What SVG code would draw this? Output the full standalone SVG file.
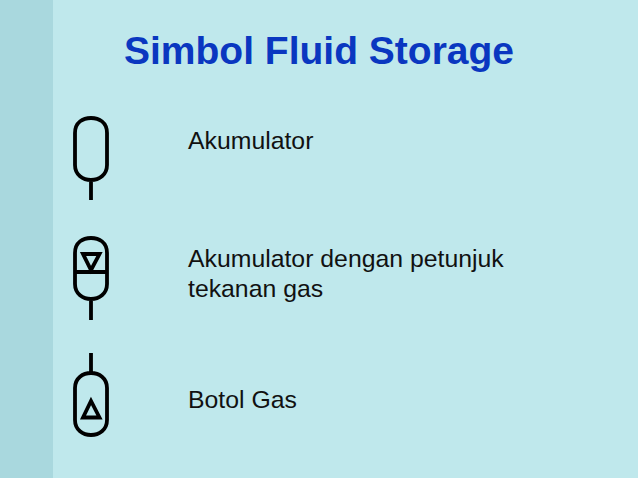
<svg xmlns="http://www.w3.org/2000/svg" width="638" height="478" viewBox="0 0 638 478">
<style>
.s{fill:none;stroke:#000;stroke-width:3.800;stroke-linejoin:miter}
.t{font-family:"Liberation Sans",Arial,sans-serif;font-size:24.800px;fill:#111}
.h{font-family:"Liberation Sans",Arial,sans-serif;font-size:39px;font-weight:bold;fill:#0a37c0}
</style>
<rect width="638" height="478" fill="#bfe8ec"/>
<rect width="53" height="478" fill="#a9d8de"/>
<text id="title" class="h" x="124" y="64">Simbol Fluid Storage</text>
<g id="akumulator">
<path class="s" d="M75 133C75 122 83 118 91 118S107 122 107 133V165C107 175 99 180 91 180S75 175 75 165ZM91 180V200"/>
<text class="t" x="188" y="149">Akumulator</text>
</g>
<g id="akumulator-gas">
<path class="s" d="M75 253C75 242 83 238 91 238S107 242 107 253V284C107 294 99 299 91 299S75 294 75 284ZM75 272H107M91 299V320M83 254H99.500L91 270Z"/>
<text class="t" x="188" y="267">Akumulator dengan petunjuk</text>
<text class="t" x="188" y="297">tekanan gas</text>
</g>
<g id="botol-gas">
<path class="s" d="M75 388C75 378 83 373 91 373S107 378 107 388V420C107 430 99 435 91 435S75 430 75 420ZM91 353V373M83 417.500H99.500L91 401Z"/>
<text class="t" x="188" y="408">Botol Gas</text>
</g>
</svg>
